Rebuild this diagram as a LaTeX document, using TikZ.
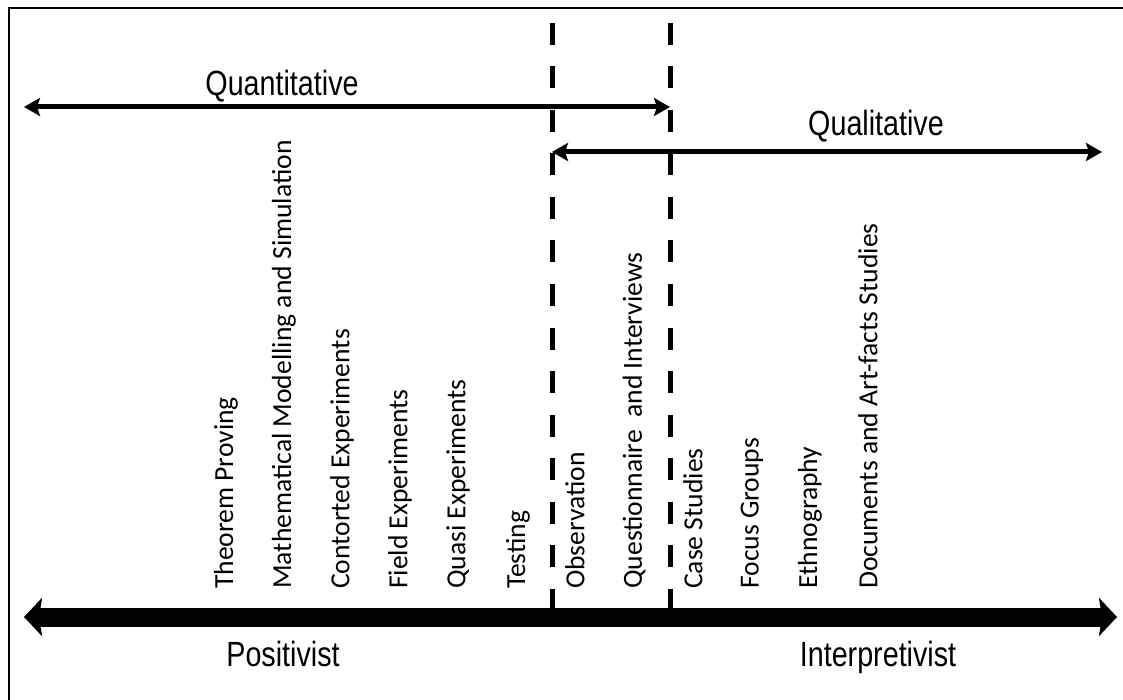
\documentclass[tikz,border=0pt]{standalone}
\usepackage{fontspec}
\usetikzlibrary{arrows.meta}
\newfontfamily\narrowsans[FakeStretch=0.82]{Liberation Sans}
\newfontfamily\methodfont{Carlito}
\begin{document}
\begin{tikzpicture}[x=1pt,y=-1pt,
  axislabel/.style={font=\narrowsans\fontsize{35}{40}\selectfont, anchor=base, inner sep=0pt},
  method/.style={font=\methodfont\fontsize{27.6}{32}\selectfont, rotate=90, anchor=west, inner sep=0pt},
  spanarrow/.style={line width=5pt, {Stealth[length=16pt,width=18pt,inset=3pt]}-{Stealth[length=16pt,width=18pt,inset=3pt]}},
  spectrum/.style={line width=19pt, {Stealth[length=18pt,width=38pt,inset=3pt]}-{Stealth[length=18pt,width=38pt,inset=3pt]}},
  divider/.style={line width=5pt, dash pattern=on 22pt off 21.5pt}
]
\useasboundingbox (0,0) rectangle (1123,700);
\fill[white] (0,0) rectangle (1123,700);

% frame (top and left edges)
\draw[line width=2.5pt] (9,700) -- (9,8) -- (1123,8);

% end points of the arrows and dividers
\coordinate (qnL) at (24,107);
\coordinate (qnR) at (670,107);
\coordinate (qlL) at (552,152);
\coordinate (qlR) at (1102,152);
\coordinate (spL) at (24,617);
\coordinate (spR) at (1117,617);
\coordinate (d1top) at (552,23);
\coordinate (d1bot) at (552,608);
\coordinate (d2top) at (670,23);
\coordinate (d2bot) at (670,608);

% dashed dividers
\draw[divider] (d1top) -- (d1bot);
\draw[divider] (d2top) -- (d2bot);

% method ranges
\draw[spanarrow] (qnL) -- (qnR);
\draw[spanarrow] (qlL) -- (qlR);
\node[axislabel] (quant) at (282,96) {Quantitative};
\node[axislabel] (qual) at (876,136) {Qualitative};

% paradigm spectrum
\draw[spectrum] (spL) -- (spR);
\node[axislabel] (pos) at (283,666) {Positivist};
\node[axislabel] (int) at (878,666) {Interpretivist};

% research methods
\node[method] (m1)  at (226,589) {Theorem Proving};
\node[method] (m2)  at (284,589) {Mathematical Modelling and Simulation};
\node[method] (m3)  at (342,589) {Contorted Experiments};
\node[method] (m4)  at (400,589) {Field Experiments};
\node[method] (m5)  at (458,589) {Quasi Experiments};
\node[method] (m6)  at (518,589) {Testing};
\node[method] (m7)  at (575,589) {Observation};
\node[method] (m8)  at (634,589) {Questionnaire~ and Interviews};
\node[method] (m9)  at (693,589) {Case Studies};
\node[method] (m10) at (752,589) {Focus Groups};
\node[method] (m11) at (810,589) {Ethnography};
\node[method] (m12) at (868,589) {Documents and Art-facts Studies};
\end{tikzpicture}
\end{document}
